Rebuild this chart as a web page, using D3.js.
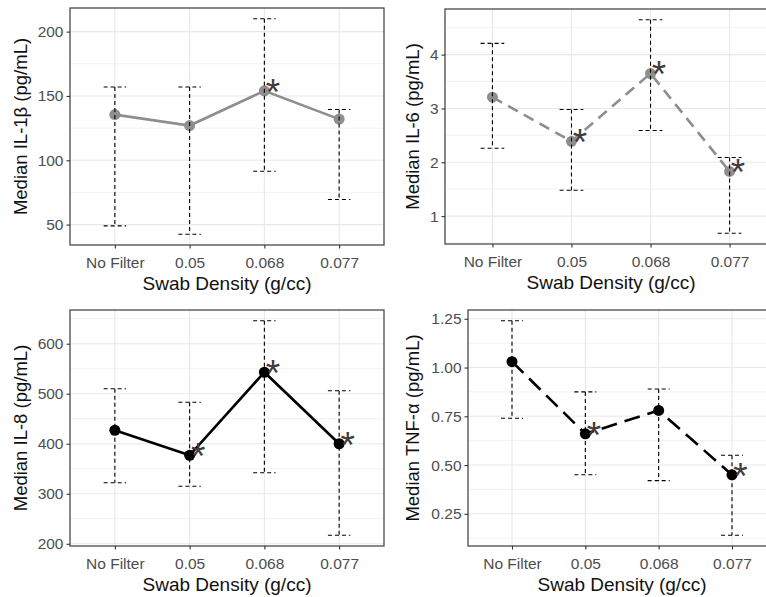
<!DOCTYPE html>
<html>
<head>
<meta charset="utf-8">
<script src="https://cdn.jsdelivr.net/npm/d3@7"></script>
<style>
  html, body { margin: 0; padding: 0; background: #ffffff; }
  svg { display: block; font-family: "Liberation Sans", Arial, sans-serif; }
</style>
</head>
<body>
<svg id="chart" width="766" height="597"></svg>
<script>
// Swab density groups along the x axis
const categories = ["No Filter", "0.05", "0.068", "0.077"];

// IL-1β (pg/mL): median with lower / upper bounds
const il1bMedian = [135.5, 127, 154, 132];
const il1bLow    = [49, 42.5, 91.5, 69.5];
const il1bHigh   = [157, 157, 210, 139.5];
const il1bSig    = [false, false, true, false];
const il1bTicks  = [50, 100, 150, 200];

// IL-6 (pg/mL)
const il6Median = [3.21, 2.39, 3.65, 1.83];
const il6Low    = [2.26, 1.48, 2.59, 0.68];
const il6High   = [4.21, 2.98, 4.65, 2.09];
const il6Sig    = [false, true, true, true];
const il6Ticks  = [1, 2, 3, 4];

// IL-8 (pg/mL)
const il8Median = [427, 377, 543, 400];
const il8Low    = [322, 315, 342, 217];
const il8High   = [510, 483, 646, 506];
const il8Sig    = [false, true, true, true];
const il8Ticks  = [200, 300, 400, 500, 600];

// TNF-α (pg/mL)
const tnfMedian = [1.03, 0.66, 0.78, 0.45];
const tnfLow    = [0.74, 0.45, 0.42, 0.14];
const tnfHigh   = [1.24, 0.875, 0.89, 0.55];
const tnfSig    = [false, true, false, true];
const tnfTicks  = [0.25, 0.50, 0.75, 1.00, 1.25];

const svg = d3.select("#chart");

const panels = [
  { title: "Median IL-1\u03B2 (pg/mL)", median: il1bMedian, low: il1bLow, high: il1bHigh, sig: il1bSig,
    ticks: il1bTicks, fmt: d3.format("d"), color: "#8e8e8e", dash: null,
    box: { left: 70, right: 384, top: 8, bottom: 245 }, ytitleX: 21 },
  { title: "Median IL-6 (pg/mL)", median: il6Median, low: il6Low, high: il6High, sig: il6Sig,
    ticks: il6Ticks, fmt: d3.format("d"), color: "#8e8e8e", dash: "11,7",
    box: { left: 445, right: 777, top: 9, bottom: 244 }, ytitleX: 413 },
  { title: "Median IL-8 (pg/mL)", median: il8Median, low: il8Low, high: il8High, sig: il8Sig,
    ticks: il8Ticks, fmt: d3.format("d"), color: "#000000", dash: null,
    box: { left: 70, right: 384, top: 310, bottom: 546 }, ytitleX: 21 },
  { title: "Median TNF-\u03B1 (pg/mL)", median: tnfMedian, low: tnfLow, high: tnfHigh, sig: tnfSig,
    ticks: tnfTicks, fmt: d3.format(".2f"), color: "#000000", dash: "16,8",
    box: { left: 468, right: 776, top: 310, bottom: 546 }, ytitleX: 413 }
];

panels.forEach(drawPanel);

function drawPanel(p) {
  const b = p.box;
  const g = svg.append("g");

  // y domain: data extent plus 5% on each side
  const lo = d3.min(p.low), hi = d3.max(p.high);
  const pad = (hi - lo) * 0.05;
  const y = d3.scaleLinear().domain([lo - pad, hi + pad]).range([b.bottom, b.top]);
  const x = d3.scalePoint().domain(categories).range([b.left, b.right]).padding(0.6);

  // minor grid lines halfway between major ticks
  const step = p.ticks[1] - p.ticks[0];
  const minor = [];
  for (let v = p.ticks[0] - step / 2; v <= hi + pad; v += step) {
    if (v >= lo - pad) minor.push(v);
  }
  g.selectAll(".minor").data(minor).enter().append("line")
    .attr("x1", b.left).attr("x2", b.right)
    .attr("y1", d => y(d)).attr("y2", d => y(d))
    .attr("stroke", "#f2f2f2").attr("stroke-width", 1);
  g.selectAll(".major").data(p.ticks).enter().append("line")
    .attr("x1", b.left).attr("x2", b.right)
    .attr("y1", d => y(d)).attr("y2", d => y(d))
    .attr("stroke", "#e8e8e8").attr("stroke-width", 1.1);
  g.selectAll(".vgrid").data(categories).enter().append("line")
    .attr("x1", d => x(d)).attr("x2", d => x(d))
    .attr("y1", b.top).attr("y2", b.bottom)
    .attr("stroke", "#e8e8e8").attr("stroke-width", 1.1);

  const rows = categories.map((c, i) => ({ c, m: p.median[i], lo: p.low[i], hi: p.high[i], s: p.sig[i] }));

  // connecting line
  const line = d3.line().x(d => x(d.c)).y(d => y(d.m));
  g.append("path").datum(rows)
    .attr("d", line).attr("fill", "none")
    .attr("stroke", p.color).attr("stroke-width", 2.6)
    .attr("stroke-dasharray", p.dash);

  // points
  g.selectAll(".pt").data(rows).enter().append("circle")
    .attr("cx", d => x(d.c)).attr("cy", d => y(d.m)).attr("r", 5.5)
    .attr("fill", p.color);

  // dashed error bars
  const capHalf = x.step() * 0.15;
  const eb = g.selectAll(".eb").data(rows).enter().append("g")
    .attr("stroke", "#000").attr("stroke-width", 1.1).attr("stroke-dasharray", "4,3").attr("fill", "none");
  eb.append("line").attr("x1", d => x(d.c)).attr("x2", d => x(d.c))
    .attr("y1", d => y(d.hi)).attr("y2", d => y(d.lo));
  eb.append("line").attr("x1", d => x(d.c) - capHalf).attr("x2", d => x(d.c) + capHalf)
    .attr("y1", d => y(d.hi)).attr("y2", d => y(d.hi));
  eb.append("line").attr("x1", d => x(d.c) - capHalf).attr("x2", d => x(d.c) + capHalf)
    .attr("y1", d => y(d.lo)).attr("y2", d => y(d.lo));

  // significance markers
  g.selectAll(".star").data(rows.filter(d => d.s)).enter().append("text")
    .attr("x", d => x(d.c) + 8.5).attr("y", d => y(d.m) + 14)
    .attr("text-anchor", "middle")
    .attr("font-size", 37)
    .attr("fill", "#433a3a")
    .text("*");

  // panel border
  g.append("rect")
    .attr("x", b.left).attr("y", b.top)
    .attr("width", b.right - b.left).attr("height", b.bottom - b.top)
    .attr("fill", "none").attr("stroke", "#4a4a4a").attr("stroke-width", 1.3);

  // axes
  const yAxis = d3.axisLeft(y).tickValues(p.ticks).tickFormat(p.fmt).tickSize(3.5).tickPadding(3);
  const xAxis = d3.axisBottom(x).tickSize(3.5).tickPadding(8.5);
  const ya = g.append("g").attr("transform", `translate(${b.left},0)`).call(yAxis);
  const xa = g.append("g").attr("transform", `translate(0,${b.bottom})`).call(xAxis);
  [ya, xa].forEach(a => {
    a.select(".domain").remove();
    a.selectAll(".tick line").attr("stroke", "#333").attr("stroke-width", 1.1);
    a.selectAll(".tick text").attr("fill", "#4d4d4d")
      .style("font-family", "'Liberation Sans', Arial, sans-serif").style("font-size", "15.5px");
  });

  // axis titles
  g.append("text")
    .attr("x", (b.left + b.right) / 2).attr("y", b.bottom + 45)
    .attr("text-anchor", "middle").attr("font-size", 19).attr("fill", "#111")
    .text("Swab Density (g/cc)");
  g.append("text")
    .attr("transform", `translate(${p.ytitleX},${(b.top + b.bottom) / 2}) rotate(-90)`)
    .attr("dy", "0.35em")
    .attr("text-anchor", "middle").attr("font-size", 18.5).attr("fill", "#111")
    .text(p.title);
}
</script>
</body>
</html>
